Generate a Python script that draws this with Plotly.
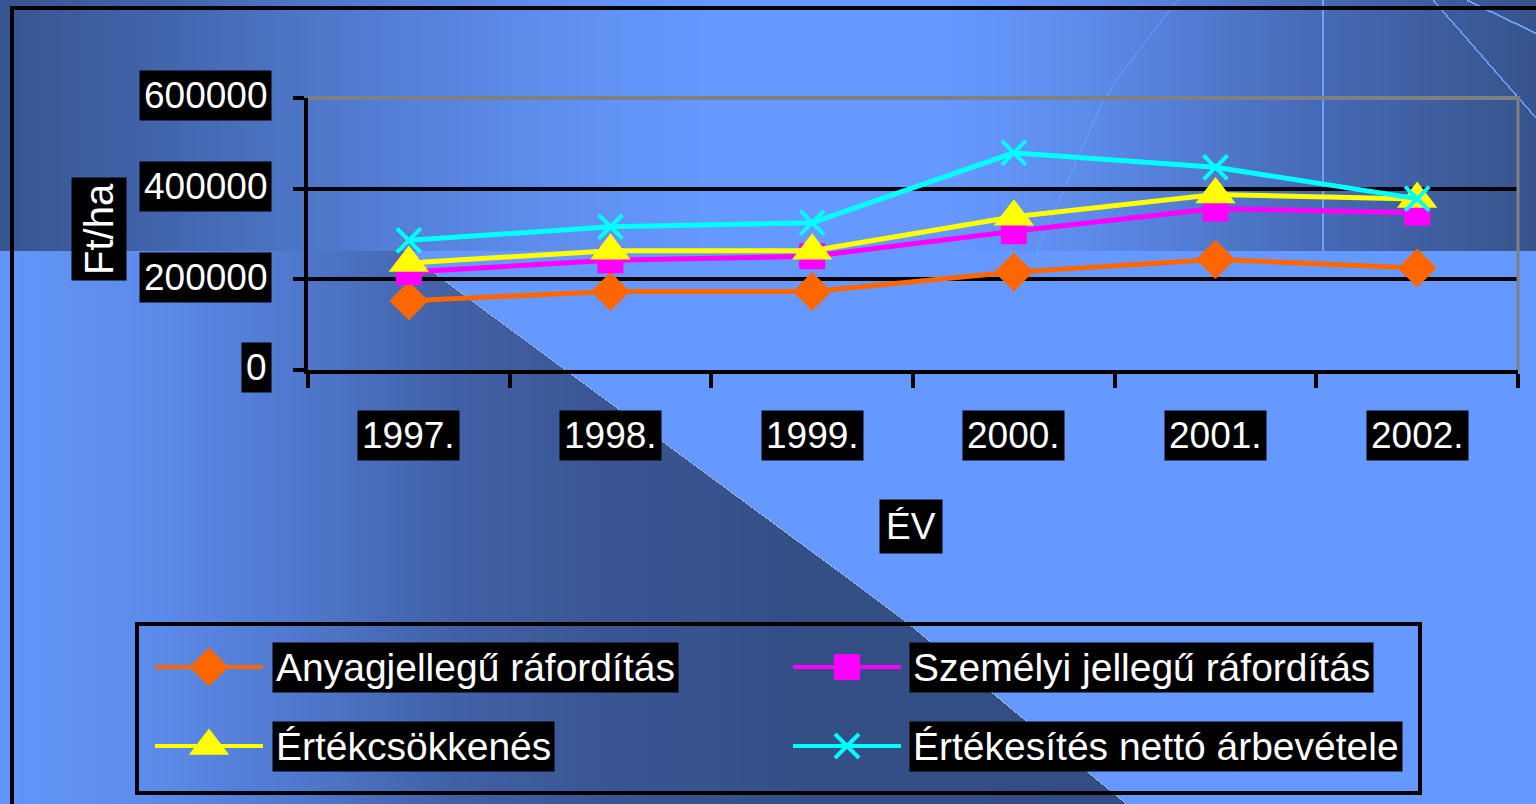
import base64
import struct
import zlib

import numpy as np
import plotly.graph_objects as go

# ---------------- data ----------------
years = ["1997.", "1998.", "1999.", "2000.", "2001.", "2002."]
series_names = [
    "Anyagjellegű ráfordítás",
    "Személyi jellegű ráfordítás",
    "Értékcsökkenés",
    "Értékesítés nettó árbevétele",
]
anyag = [153000, 173000, 173000, 216000, 244000, 225000]
szemelyi = [216000, 242000, 251000, 306000, 356000, 347000]
ertekcsokk = [236000, 263000, 263000, 338000, 387000, 377000]
arbevetel = [286000, 316000, 325000, 479000, 447000, 378000]
y_tick_values = [0, 200000, 400000, 600000]
y_tick_labels = ["0", "200000", "400000", "600000"]
y_title = "Ft/ha"
x_title = "ÉV"

# ---------------- styles ----------------
W, H = 1536, 804
FONT = "Liberation Sans, Arial, sans-serif"
FS = 37
FS_LEG = 39
colors = ["#FF6600", "#FF00FF", "#FFFF00", "#00FFFF"]
symbols = ["diamond", "square", "triangle-up", "x-thin"]
msizes = [30, 26, 35, 24]
series = [anyag, szemelyi, ertekcsokk, arbevetel]

PLOT_L, PLOT_R, PLOT_T, PLOT_B = 308, 1518, 98, 370


def px(x):
    return x / W


def py(y):
    return 1 - y / H


# ---------------- background picture ----------------
def profile(stops):
    xs = np.arange(W)
    pos = [s[0] for s in stops]
    out = np.zeros((W, 3))
    for c in range(3):
        out[:, c] = np.interp(xs, pos, [s[1][c] for s in stops])
    return out


top = profile([(0, (55, 85, 145)), (150, (65, 100, 170)), (300, (78, 118, 200)),
               (500, (92, 138, 232)), (700, (102, 153, 255)), (950, (102, 153, 255)),
               (1100, (92, 138, 232)), (1300, (72, 108, 185)), (1536, (55, 84, 140))])
dark = profile([(0, (100, 150, 250)), (150, (92, 140, 235)), (300, (80, 120, 205)),
                (450, (66, 98, 168)), (600, (58, 86, 148)), (800, (53, 80, 135)),
                (1536, (50, 76, 128))])
img = np.zeros((H, W, 3))
img[:] = (102, 153, 255)
img[:251] = top
for yy in range(251, H):
    xd = int(np.interp(yy, [251, 367, 572, 622, 804], [405, 562, 840, 907, 1127]))
    img[yy, :xd] = dark[:xd]
    img[yy, xd:xd + 1] = (175, 195, 235)
thin = (108, 160, 255)
img[0:251, 1322:1324] = thin
for yy in range(0, 251):
    xc = int(np.interp(yy, [0, 80, 107, 250], [1177, 1116, 1100, 1037]))
    img[yy, xc] = thin
    xl = int(1433 + yy * 103 / 118)
    if xl < W:
        img[yy, xl:xl + 2] = thin
for xx in range(1467, W):
    yl = int((xx - 1467) * 33 / 69)
    img[yl:yl + 2, xx] = thin
img[6:10, 10:] = 0
img[6:, 10:14] = 0
img = np.clip(img, 0, 255).astype(np.uint8)


def to_png(arr):
    h, w, _ = arr.shape
    raw = np.zeros((h, w * 3 + 1), dtype=np.uint8)
    raw[:, 1:] = arr.reshape(h, -1)
    comp = zlib.compress(raw.tobytes(), 9)

    def chunk(t, d):
        return struct.pack(">I", len(d)) + t + d + struct.pack(">I", zlib.crc32(t + d) & 0xFFFFFFFF)

    return (b"\x89PNG\r\n\x1a\n" + chunk(b"IHDR", struct.pack(">IIBBBBB", w, h, 8, 2, 0, 0, 0))
            + chunk(b"IDAT", comp) + chunk(b"IEND", b""))


bg_uri = "data:image/png;base64," + base64.b64encode(to_png(img)).decode()

# ---------------- figure ----------------
fig = go.Figure()
for name, vals, col, sym, ms in zip(series_names, series, colors, symbols, msizes):
    marker = dict(symbol=sym, size=ms, color=col, opacity=1)
    marker["line"] = dict(color=col, width=4 if sym == "x-thin" else 0)
    fig.add_trace(go.Scatter(x=years, y=vals, name=name, mode="lines+markers",
                             line=dict(color=col, width=5), marker=marker,
                             showlegend=False, xaxis="x", yaxis="y", cliponaxis=False))

# manual legend (samples drawn on a hidden full-page pixel axis)
leg_cols = [(155, 263, 272), (793, 901, 909)]
leg_rows = [667, 746]
annotations = []
for i, (name, col, sym, ms) in enumerate(zip(series_names, colors, symbols, msizes)):
    cx0, cx1, tx = leg_cols[i % 2]
    ry = leg_rows[i // 2]
    marker = dict(symbol=sym, size=[0, ms, 0], color=col, opacity=1)
    marker["line"] = dict(color=col, width=4 if sym == "x-thin" else 0)
    fig.add_trace(go.Scatter(x=[cx0, (cx0 + cx1) / 2, cx1], y=[ry, ry, ry], mode="lines+markers",
                             line=dict(color=col, width=4), marker=marker,
                             showlegend=False, xaxis="x2", yaxis="y2", hoverinfo="skip"))
    annotations.append(dict(text=name, xref="paper", yref="paper", x=px(tx), y=py(ry),
                            xanchor="left", yanchor="middle", showarrow=False,
                            font=dict(family=FONT, size=FS_LEG, color="white"),
                            bgcolor="black", borderpad=3))

# y tick labels
for v, lab in zip(y_tick_values, y_tick_labels):
    annotations.append(dict(text=lab, xref="paper", yref="y", x=px(272), y=v, yshift=2,
                            xanchor="right", yanchor="middle", showarrow=False,
                            font=dict(family=FONT, size=FS, color="white"),
                            bgcolor="black", borderpad=4))
# x tick labels
for i, yr in enumerate(years):
    annotations.append(dict(text=yr, xref="x", yref="paper", x=i, y=py(435.5),
                            xanchor="center", yanchor="middle", showarrow=False,
                            font=dict(family=FONT, size=FS, color="white"),
                            bgcolor="black", borderpad=4))
# axis titles
annotations.append(dict(text=x_title, xref="paper", yref="paper", x=px((PLOT_L + PLOT_R) / 2 - 2),
                        y=py(526), xanchor="center", yanchor="middle", showarrow=False,
                        font=dict(family=FONT, size=FS, color="white"), bgcolor="black", borderpad=6))
annotations.append(dict(text=y_title, xref="paper", yref="paper", x=px(99), y=py(229),
                        xanchor="center", yanchor="middle", showarrow=False, textangle=-90,
                        font=dict(family=FONT, size=40, color="white"), bgcolor="black", borderpad=5))

shapes = [
    # plot frame (top and right in grey)
    dict(type="line", xref="paper", yref="paper", x0=px(PLOT_L), x1=px(PLOT_R + 2),
         y0=py(PLOT_T), y1=py(PLOT_T), line=dict(color="#808080", width=4)),
    dict(type="line", xref="paper", yref="paper", x0=px(PLOT_R), x1=px(PLOT_R),
         y0=py(PLOT_T), y1=py(PLOT_B), line=dict(color="#808080", width=3)),
    # legend box
    dict(type="rect", xref="paper", yref="paper", x0=px(137), x1=px(1420), y0=py(624), y1=py(793),
         line=dict(color="black", width=4), fillcolor="rgba(0,0,0,0)"),
]

fig.update_layout(
    width=W, height=H, margin=dict(l=0, r=0, t=0, b=0, pad=0),
    paper_bgcolor="#6699FF", plot_bgcolor="rgba(0,0,0,0)",
    showlegend=False,
    xaxis=dict(domain=[px(PLOT_L), px(PLOT_R)], type="category", range=[-0.5, 5.5],
               showline=True, linecolor="black", linewidth=4, tickson="boundaries",
               ticks="outside", ticklen=14, tickwidth=4, tickcolor="black",
               showticklabels=False, showgrid=False, zeroline=False, anchor="y"),
    yaxis=dict(domain=[py(PLOT_B), py(PLOT_T)], range=[0, 600000], tickvals=y_tick_values,
               showline=True, linecolor="black", linewidth=4, ticks="outside", ticklen=11,
               tickwidth=4, tickcolor="black", showticklabels=False, showgrid=True,
               gridcolor="black", gridwidth=4, zeroline=False, anchor="x"),
    xaxis2=dict(domain=[0, 1], range=[0, W], visible=False, anchor="y2"),
    yaxis2=dict(domain=[0, 1], range=[H, 0], visible=False, anchor="x2"),
    images=[dict(source=bg_uri, xref="paper", yref="paper", x=0, y=1, sizex=1, sizey=1,
                 xanchor="left", yanchor="top", sizing="stretch", layer="below")],
    annotations=annotations,
    shapes=shapes,
)

fig.write_html("out.html", config={"displayModeBar": False},
               post_script="document.body.style.margin='0px';document.body.style.overflow='hidden';")
